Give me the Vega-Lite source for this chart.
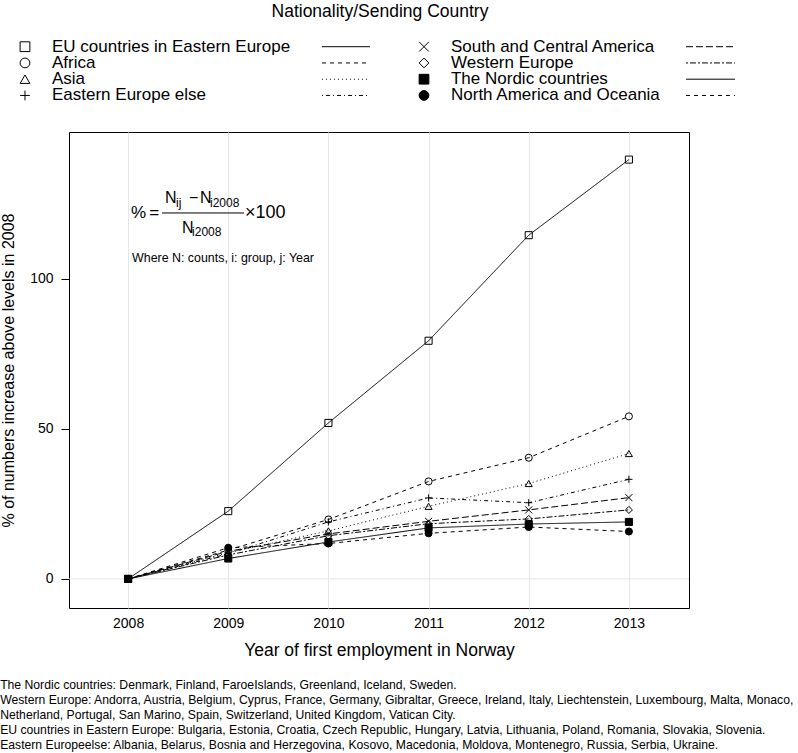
{
  "$schema": "https://vega.github.io/schema/vega-lite/v6.json",
  "background": "white",
  "padding": 0,
  "spacing": 0,
  "title": {
    "text": [
      "The Nordic countries: Denmark, Finland, FaroeIslands, Greenland, Iceland, Sweden.",
      "Western Europe: Andorra, Austria, Belgium, Cyprus, France, Germany, Gibraltar, Greece, Ireland, Italy, Liechtenstein, Luxembourg, Malta, Monaco,",
      "Netherland, Portugal, San Marino, Spain, Switzerland, United Kingdom, Vatican City.",
      "EU countries in Eastern Europe: Bulgaria, Estonia, Croatia, Czech Republic, Hungary, Latvia, Lithuania, Poland, Romania, Slovakia, Slovenia.",
      "Eastern Europeelse: Albania, Belarus, Bosnia and Herzegovina, Kosovo, Macedonia, Moldova, Montenegro, Russia, Serbia, Ukraine."
    ],
    "orient": "bottom",
    "anchor": "start",
    "baseline": "top",
    "fontSize": 12.2,
    "fontWeight": "normal",
    "lineHeight": 15,
    "offset": 20,
    "color": "black"
  },
  "config": {
    "font": "Liberation Sans",
    "view": {"stroke": null},
    "axis": {"labelColor": "black", "titleColor": "black", "titleFontWeight": "normal"}
  },
  "datasets": {
    "growth": [
      {"group": "EU countries in Eastern Europe", "year": 2008, "pct": 0},
      {"group": "EU countries in Eastern Europe", "year": 2009, "pct": 22.6},
      {"group": "EU countries in Eastern Europe", "year": 2010, "pct": 52.0},
      {"group": "EU countries in Eastern Europe", "year": 2011, "pct": 79.4},
      {"group": "EU countries in Eastern Europe", "year": 2012, "pct": 114.6},
      {"group": "EU countries in Eastern Europe", "year": 2013, "pct": 139.8},
      {"group": "Africa", "year": 2008, "pct": 0},
      {"group": "Africa", "year": 2009, "pct": 9.6},
      {"group": "Africa", "year": 2010, "pct": 19.8},
      {"group": "Africa", "year": 2011, "pct": 32.5},
      {"group": "Africa", "year": 2012, "pct": 40.4},
      {"group": "Africa", "year": 2013, "pct": 54.2},
      {"group": "Asia", "year": 2008, "pct": 0},
      {"group": "Asia", "year": 2009, "pct": 8.8},
      {"group": "Asia", "year": 2010, "pct": 16.0},
      {"group": "Asia", "year": 2011, "pct": 24.2},
      {"group": "Asia", "year": 2012, "pct": 31.8},
      {"group": "Asia", "year": 2013, "pct": 41.8},
      {"group": "Eastern Europe else", "year": 2008, "pct": 0},
      {"group": "Eastern Europe else", "year": 2009, "pct": 8.4},
      {"group": "Eastern Europe else", "year": 2010, "pct": 19.0},
      {"group": "Eastern Europe else", "year": 2011, "pct": 27.0},
      {"group": "Eastern Europe else", "year": 2012, "pct": 25.4},
      {"group": "Eastern Europe else", "year": 2013, "pct": 33.2},
      {"group": "South and Central America", "year": 2008, "pct": 0},
      {"group": "South and Central America", "year": 2009, "pct": 9.2},
      {"group": "South and Central America", "year": 2010, "pct": 15.0},
      {"group": "South and Central America", "year": 2011, "pct": 19.2},
      {"group": "South and Central America", "year": 2012, "pct": 23.0},
      {"group": "South and Central America", "year": 2013, "pct": 27.1},
      {"group": "Western Europe", "year": 2008, "pct": 0},
      {"group": "Western Europe", "year": 2009, "pct": 8.0},
      {"group": "Western Europe", "year": 2010, "pct": 14.4},
      {"group": "Western Europe", "year": 2011, "pct": 18.4},
      {"group": "Western Europe", "year": 2012, "pct": 20.0},
      {"group": "Western Europe", "year": 2013, "pct": 23.0},
      {"group": "The Nordic countries", "year": 2008, "pct": 0},
      {"group": "The Nordic countries", "year": 2009, "pct": 6.8},
      {"group": "The Nordic countries", "year": 2010, "pct": 12.3},
      {"group": "The Nordic countries", "year": 2011, "pct": 17.0},
      {"group": "The Nordic countries", "year": 2012, "pct": 18.3},
      {"group": "The Nordic countries", "year": 2013, "pct": 19.0},
      {"group": "North America and Oceania", "year": 2008, "pct": 0},
      {"group": "North America and Oceania", "year": 2009, "pct": 10.4},
      {"group": "North America and Oceania", "year": 2010, "pct": 11.8},
      {"group": "North America and Oceania", "year": 2011, "pct": 15.2},
      {"group": "North America and Oceania", "year": 2012, "pct": 17.3},
      {"group": "North America and Oceania", "year": 2013, "pct": 15.8}
    ],
    "keys": [
      {"group": "EU countries in Eastern Europe", "col": 1, "row": 1},
      {"group": "Africa", "col": 1, "row": 2},
      {"group": "Asia", "col": 1, "row": 3},
      {"group": "Eastern Europe else", "col": 1, "row": 4},
      {"group": "South and Central America", "col": 2, "row": 1},
      {"group": "Western Europe", "col": 2, "row": 2},
      {"group": "The Nordic countries", "col": 2, "row": 3},
      {"group": "North America and Oceania", "col": 2, "row": 4}
    ]
  },
  "vconcat": [
    {
      "width": 620,
      "height": 131,
      "view": {"stroke": null},
      "encoding": {
        "x": {"type": "quantitative", "scale": {"domain": [1.1103, 2.6642], "nice": false, "zero": false}, "axis": null},
        "y": {"type": "quantitative", "scale": {"domain": [-1.874, 6.188], "nice": false, "zero": false, "reverse": true}, "axis": null}
      },
      "layer": [
        {
          "data": {"values": [{}]},
          "mark": {"type": "text", "fontSize": 17.5, "align": "center", "baseline": "middle", "color": "black"},
          "encoding": {
            "x": {"datum": 1.8897, "type": "quantitative"},
            "y": {"datum": -1.136, "type": "quantitative"},
            "text": {"value": "Nationality/Sending Country"}
          }
        },
        {
          "data": {"name": "keys"},
          "mark": {"type": "point", "stroke": "black", "strokeWidth": 1, "opacity": 1, "size": 95},
          "encoding": {
            "x": {"field": "col"},
            "y": {"field": "row"},
            "shape": {"field": "group", "type": "nominal", "legend": null, "scale": {
              "domain": ["EU countries in Eastern Europe", "Africa", "Asia", "Eastern Europe else", "South and Central America", "Western Europe", "The Nordic countries", "North America and Oceania"],
              "range": ["square", "circle", "triangle-up", "M-1,0H1M0,-1V1", "M-1,-1L1,1M-1,1L1,-1", "diamond", "square", "circle"]}},
            "fill": {"field": "group", "type": "nominal", "legend": null, "scale": {
              "domain": ["EU countries in Eastern Europe", "Africa", "Asia", "Eastern Europe else", "South and Central America", "Western Europe", "The Nordic countries", "North America and Oceania"],
              "range": ["transparent", "transparent", "transparent", "transparent", "transparent", "transparent", "black", "black"]}}
          }
        },
        {
          "data": {"name": "keys"},
          "mark": {"type": "text", "fontSize": 17, "align": "left", "baseline": "middle", "dx": 27, "color": "black"},
          "encoding": {
            "x": {"field": "col"},
            "y": {"field": "row"},
            "text": {"field": "group"}
          }
        },
        {
          "data": {"name": "keys"},
          "transform": [{"filter": "datum.col == 1"}],
          "mark": {"type": "rule", "color": "black", "strokeWidth": 1, "xOffset": 297, "x2Offset": 345},
          "encoding": {
            "x": {"field": "col"},
            "x2": {"field": "col"},
            "y": {"field": "row"},
            "strokeDash": {"field": "group", "type": "nominal", "legend": null, "scale": {
              "domain": ["EU countries in Eastern Europe", "Africa", "Asia", "Eastern Europe else", "South and Central America", "Western Europe", "The Nordic countries", "North America and Oceania"],
              "range": [[1, 0], [4, 4], [1, 3], [1, 3, 4, 3], [7, 3], [2, 2, 6, 2], [1, 0], [4, 4]]}}
          }
        },
        {
          "data": {"name": "keys"},
          "transform": [{"filter": "datum.col == 2"}],
          "mark": {"type": "rule", "color": "black", "strokeWidth": 1, "xOffset": 262, "x2Offset": 311},
          "encoding": {
            "x": {"field": "col"},
            "x2": {"field": "col"},
            "y": {"field": "row"},
            "strokeDash": {"field": "group", "type": "nominal", "legend": null, "scale": {
              "domain": ["EU countries in Eastern Europe", "Africa", "Asia", "Eastern Europe else", "South and Central America", "Western Europe", "The Nordic countries", "North America and Oceania"],
              "range": [[1, 0], [4, 4], [1, 3], [1, 3, 4, 3], [7, 3], [2, 2, 6, 2], [1, 0], [4, 4]]}}
          }
        }
      ]
    },
    {
      "width": 620,
      "height": 476,
      "view": {"stroke": "black", "strokeWidth": 1},
      "encoding": {
        "x": {
          "type": "quantitative",
          "scale": {"domain": [2007.41, 2013.6], "nice": false, "zero": false},
          "axis": {
            "title": "Year of first employment in Norway",
            "titleFontSize": 17.5,
            "titlePadding": 11,
            "values": [2008, 2009, 2010, 2011, 2012, 2013],
            "format": "d",
            "labelFontSize": 14,
            "labelPadding": 8,
            "ticks": false,
            "domain": false,
            "grid": true,
            "gridColor": "#e6e6e6",
            "gridWidth": 1
          }
        },
        "y": {
          "type": "quantitative",
          "scale": {"domain": [-9.7, 149], "nice": false, "zero": false},
          "axis": {
            "title": "% of numbers increase above levels in 2008",
            "titleFontSize": 16,
            "titlePadding": 13,
            "values": [0, 50, 100],
            "labelFontSize": 14,
            "labelPadding": 8,
            "tickSize": 8,
            "tickColor": "black",
            "domain": false,
            "grid": false
          }
        }
      },
      "layer": [
        {
          "data": {"values": [{}]},
          "mark": {"type": "rule", "color": "#e6e6e6", "strokeWidth": 1},
          "encoding": {"y": {"datum": 0, "type": "quantitative"}}
        },
        {
          "data": {"name": "growth"},
          "mark": {"type": "line", "color": "black", "strokeWidth": 1},
          "encoding": {
            "x": {"field": "year"},
            "y": {"field": "pct"},
            "detail": {"field": "group", "type": "nominal"},
            "strokeDash": {"field": "group", "type": "nominal", "legend": null, "scale": {
              "domain": ["EU countries in Eastern Europe", "Africa", "Asia", "Eastern Europe else", "South and Central America", "Western Europe", "The Nordic countries", "North America and Oceania"],
              "range": [[1, 0], [4, 4], [1, 3], [1, 3, 4, 3], [7, 3], [2, 2, 6, 2], [1, 0], [4, 4]]}}
          }
        },
        {
          "data": {"name": "growth"},
          "mark": {"type": "point", "stroke": "black", "strokeWidth": 1, "opacity": 1, "size": 50},
          "encoding": {
            "x": {"field": "year"},
            "y": {"field": "pct"},
            "shape": {"field": "group", "type": "nominal", "legend": null, "scale": {
              "domain": ["EU countries in Eastern Europe", "Africa", "Asia", "Eastern Europe else", "South and Central America", "Western Europe", "The Nordic countries", "North America and Oceania"],
              "range": ["square", "circle", "triangle-up", "M-1,0H1M0,-1V1", "M-1,-1L1,1M-1,1L1,-1", "diamond", "square", "circle"]}},
            "fill": {"field": "group", "type": "nominal", "legend": null, "scale": {
              "domain": ["EU countries in Eastern Europe", "Africa", "Asia", "Eastern Europe else", "South and Central America", "Western Europe", "The Nordic countries", "North America and Oceania"],
              "range": ["transparent", "transparent", "transparent", "transparent", "transparent", "transparent", "black", "black"]}}
          }
        },
        {
          "data": {"values": [{}]},
          "mark": {"type": "text", "fontSize": 17, "align": "center", "baseline": "middle", "color": "black"},
          "encoding": {"x": {"datum": 2008.105, "type": "quantitative"}, "y": {"datum": 122.0, "type": "quantitative"}, "text": {"value": "%"}}
        },
        {
          "data": {"values": [{}]},
          "mark": {"type": "text", "fontSize": 17, "align": "center", "baseline": "middle", "color": "black"},
          "encoding": {"x": {"datum": 2008.26, "type": "quantitative"}, "y": {"datum": 122.0, "type": "quantitative"}, "text": {"value": "="}}
        },
        {
          "data": {"values": [{}]},
          "mark": {"type": "text", "fontSize": 16, "align": "left", "baseline": "middle", "color": "black"},
          "encoding": {"x": {"datum": 2008.369, "type": "quantitative"}, "y": {"datum": 126.9, "type": "quantitative"}, "text": {"value": "N"}}
        },
        {
          "data": {"values": [{}]},
          "mark": {"type": "text", "fontSize": 12, "align": "left", "baseline": "middle", "color": "black"},
          "encoding": {"x": {"datum": 2008.479, "type": "quantitative"}, "y": {"datum": 125.4, "type": "quantitative"}, "text": {"value": "ij"}}
        },
        {
          "data": {"values": [{}]},
          "mark": {"type": "text", "fontSize": 16, "align": "left", "baseline": "middle", "color": "black"},
          "encoding": {"x": {"datum": 2008.609, "type": "quantitative"}, "y": {"datum": 126.9, "type": "quantitative"}, "text": {"value": "−"}}
        },
        {
          "data": {"values": [{}]},
          "mark": {"type": "text", "fontSize": 16, "align": "left", "baseline": "middle", "color": "black"},
          "encoding": {"x": {"datum": 2008.719, "type": "quantitative"}, "y": {"datum": 126.9, "type": "quantitative"}, "text": {"value": "N"}}
        },
        {
          "data": {"values": [{}]},
          "mark": {"type": "text", "fontSize": 12, "align": "left", "baseline": "middle", "color": "black"},
          "encoding": {"x": {"datum": 2008.818, "type": "quantitative"}, "y": {"datum": 125.4, "type": "quantitative"}, "text": {"value": "i2008"}}
        },
        {
          "data": {"values": [{}]},
          "mark": {"type": "rule", "color": "black", "strokeWidth": 1},
          "encoding": {"x": {"datum": 2008.339, "type": "quantitative"}, "x2": {"datum": 2009.158}, "y": {"datum": 122.0, "type": "quantitative"}}
        },
        {
          "data": {"values": [{}]},
          "mark": {"type": "text", "fontSize": 16, "align": "left", "baseline": "middle", "color": "black"},
          "encoding": {"x": {"datum": 2008.539, "type": "quantitative"}, "y": {"datum": 117.0, "type": "quantitative"}, "text": {"value": "N"}}
        },
        {
          "data": {"values": [{}]},
          "mark": {"type": "text", "fontSize": 12, "align": "left", "baseline": "middle", "color": "black"},
          "encoding": {"x": {"datum": 2008.639, "type": "quantitative"}, "y": {"datum": 115.6, "type": "quantitative"}, "text": {"value": "i2008"}}
        },
        {
          "data": {"values": [{}]},
          "mark": {"type": "text", "fontSize": 18, "align": "left", "baseline": "middle", "color": "black"},
          "encoding": {"x": {"datum": 2009.168, "type": "quantitative"}, "y": {"datum": 122.0, "type": "quantitative"}, "text": {"value": "×100"}}
        },
        {
          "data": {"values": [{}]},
          "mark": {"type": "text", "fontSize": 12.4, "align": "left", "baseline": "middle", "color": "black"},
          "encoding": {"x": {"datum": 2008.04, "type": "quantitative"}, "y": {"datum": 107.0, "type": "quantitative"}, "text": {"value": "Where N: counts, i: group, j: Year"}}
        }
      ]
    }
  ]
}
